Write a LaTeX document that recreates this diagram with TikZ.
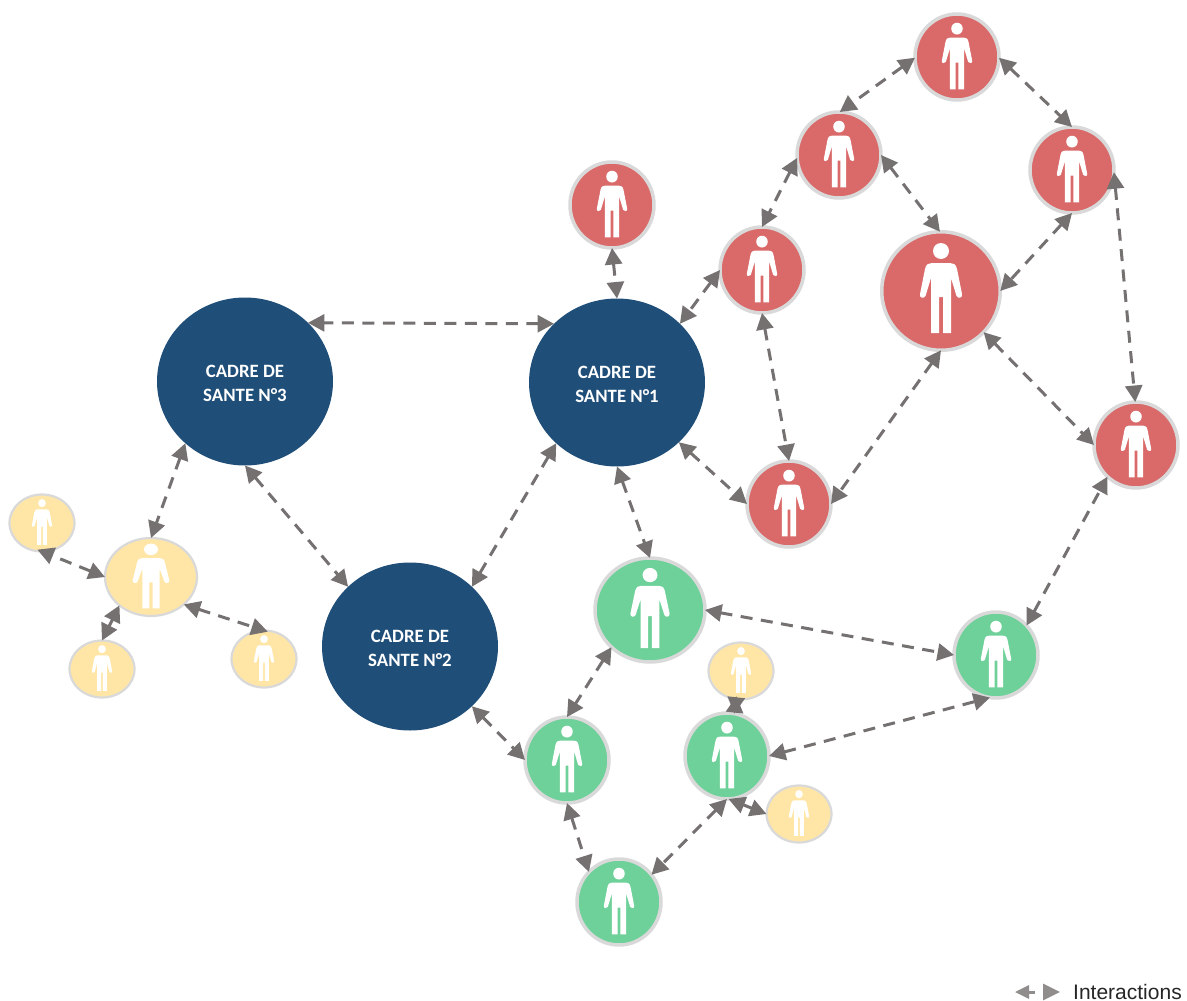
\documentclass[tikz,border=0pt]{standalone}
\usepackage{fontspec}
\setmainfont{Carlito}
\newfontfamily\legendfont{Liberation Sans}
\usetikzlibrary{shapes.geometric,arrows.meta}
\definecolor{redc}{HTML}{DA6969}
\definecolor{greenc}{HTML}{6FD19A}
\definecolor{bluec}{HTML}{1F4E79}
\definecolor{yellowc}{HTML}{FFE6A7}
\definecolor{ringc}{HTML}{D9D9D9}
\definecolor{linkc}{HTML}{767171}
\tikzset{
  person/.style={ellipse,draw=ringc,line width=3.5pt,inner sep=0pt,outer sep=0pt},
  redsmall/.style={person,fill=redc,minimum width=84pt,minimum height=86pt},
  redbig/.style={person,fill=redc,minimum width=118.5pt,minimum height=118.5pt},
  greensmall/.style={person,fill=greenc,minimum width=84pt,minimum height=86pt},
  greenbig/.style={person,fill=greenc,minimum width=110pt,minimum height=104pt},
  yellowsmall/.style={person,line width=2.2pt,fill=yellowc,minimum width=65pt,minimum height=57pt},
  yellowbig/.style={person,line width=2.2pt,fill=yellowc,minimum width=92pt,minimum height=78pt},
  cadre/.style={ellipse,fill=bluec,inner sep=0pt,outer sep=0pt,minimum width=176pt,minimum height=168pt,
    text=white,align=center,font=\fontsize{18.8}{24}\selectfont\bfseries},
  link/.style={draw=linkc,line width=3pt,dash pattern=on 12pt off 8.5pt,
    arrows={Triangle[length=16.5pt,width=17pt,fill=linkc]-Triangle[length=16.5pt,width=17pt,fill=linkc]}},
  legendlink/.style={draw=linkc!80,line width=3pt,dash pattern=on 7pt off 60pt,
    arrows={Triangle[length=14pt,width=13pt,fill=linkc!80]-Triangle[length=17pt,width=16pt,fill=linkc!80]}},
  legendtext/.style={font=\fontsize{21}{24}\selectfont\legendfont,anchor=west,inner sep=0pt,text=black!85},
}
\newcommand{\personicon}[5]{%
  \begin{scope}[shift={(#1)},shift={(#4,#5)},xscale=#2,yscale=#3]
    \fill[white] (0,-37) ellipse [x radius=8,y radius=8];
    \fill[white] (-10,-10) -- (-10,45) -- (-2,45) -- (-2,9) -- (2,9) -- (2,45) -- (10,45) -- (10,-10)
      -- (15.5,8) .. controls (17,11) and (22,10) .. (21,6) -- (16,-19) .. controls (15,-24) and (12,-25) .. (9,-25)
      -- (-9,-25) .. controls (-12,-25) and (-15,-24) .. (-16,-19) -- (-21,6) .. controls (-22,10) and (-17,11) .. (-15.5,8) -- cycle;
  \end{scope}}
\newcommand{\firstline}{\rule{0pt}{17pt}}
\begin{document}
\begin{tikzpicture}[x=1pt,y=-1pt]
\useasboundingbox (0,0) rectangle (1187,1001);
\fill[white] (0,0) rectangle (1187,1001);
% red
\node[redsmall] (r1) at (957,57) {};
\node[redsmall] (r2) at (839,155) {};
\node[redsmall] (r3) at (1072,170) {};
\node[redsmall] (r4) at (612,205) {};
\node[redsmall] (r5) at (762,270) {};
\node[redbig] (rb) at (941,291) {};
\node[redsmall] (r6) at (1136,445) {};
\node[redsmall] (r7) at (789,504) {};
% blue
\node[cadre] (b3) at (245,381.5) {\firstline CADRE DE\\SANTE N°3};
\node[cadre] (b1) at (617,382.5) {\firstline CADRE DE\\SANTE N°1};
\node[cadre] (b2) at (410,646.5) {\firstline CADRE DE\\SANTE N°2};
% green
\node[greenbig] (g1) at (650,610) {};
\node[greensmall] (g2) at (996,655) {};
\node[greensmall] (g3) at (567,760) {};
\node[greensmall] (g4) at (727,756) {};
\node[greensmall] (g5) at (619,902) {};
% yellow
\node[yellowsmall] (y1) at (42,523) {};
\node[yellowbig] (yb) at (151,577) {};
\node[yellowsmall] (y2) at (102,669) {};
\node[yellowsmall] (y3) at (264,659) {};
\node[yellowsmall] (y4) at (741,671) {};
\node[yellowsmall] (y5) at (799,814) {};
% icons
\foreach \n in {r1,r2,r3,r4,r5,r6,r7,g2,g3,g4,g5}{\personicon{\n}{.72}{.74}{0}{-1}}
\personicon{rb}{1}{1}{0}{-3}
\personicon{g1}{.93}{.89}{0}{-2}
\personicon{yb}{.87}{.72}{0}{-1}
\foreach \n in {y1,y2,y3,y4,y5}{\personicon{\n}{.48}{.51}{0}{-1}}
% links
\draw[link] (r1.181) -- (r2.89);
\draw[link] (r1.-1) -- (r3.90);
\draw[link] (r2.184) -- (r5.90);
\draw[link] (r2.0) -- (rb.91);
\draw[link] (r3.-90) -- (rb.0);
\draw[link] (r3.-3) -- (r6.91);
\draw[link] (r4.-90) -- (b1.90);
\draw[link] (r5.180) -- (b1.43);
\draw[link] (r5.-90) -- (r7.90);
\draw[link] (rb.-90) -- (r7.0);
\draw[link] (rb.-44) -- (r6.180);
\draw[link] (b1.137) -- (b3.43);
\draw[link] (b1.-44) -- (r7.180);
\draw[link] (b1.-135) -- (b2.44);
\draw[link] (b1.-90) -- (g1.90);
\draw[link] (b3.-90) -- (b2.136);
\draw[link] (b3.-134) -- (yb.90);
\draw[link,shorten >=-5pt] (yb.180) -- (y1.-90);
\draw[link] (yb.-138) -- (y2.90);
\draw[link,shorten >=-4pt] (yb.-40) -- (y3.90);
\draw[link] (g1.0) -- (g2.180);
\draw[link] (g1.-136) -- (g3.90);
\draw[link] (b2.-44) -- (g3.180);
\draw[link] (g3.-90) -- (g5.135);
\draw[link] (g4.-90) -- (g5.40);
\draw[link] (g4.0) -- (g2.-98);
\draw[link,shorten >=-3pt] (g4.80) -- (y4.-100);
\draw[link] (g4.-88) -- (y5.180);
\draw[link] (g2.44) -- (r6.-132);
% legend
\coordinate (la) at (1015,992);
\coordinate (lb) at (1060,992);
\draw[legendlink] (la) -- (lb);
\node[legendtext] (lt) at (1073,992) {Interactions};
\end{tikzpicture}
\end{document}
